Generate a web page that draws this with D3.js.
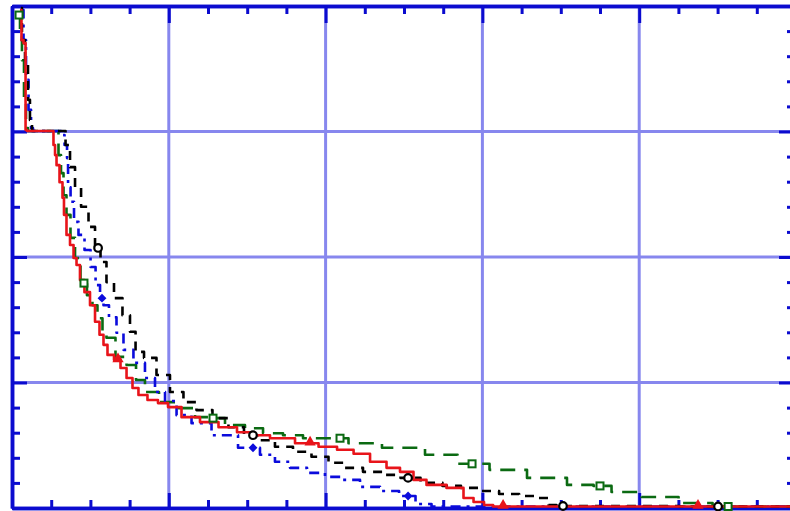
<!DOCTYPE html>
<html>
<head>
<meta charset="utf-8">
<script src="https://cdn.jsdelivr.net/npm/d3@7/dist/d3.min.js"></script>
<style>
  html, body { margin: 0; padding: 0; background: #ffffff; overflow: hidden; }
  svg { display: block; }
</style>
</head>
<body>
<svg id="chart" width="790" height="511"></svg>
<script>
// ---- axis ticks ----
const xMajorTicks = [0, 100, 200, 300, 400, 500];
const xMinorTicks = [25, 50, 75, 125, 150, 175, 225, 250, 275, 325, 350, 375, 425, 450, 475];
const yMajorTicks = [0, 25, 50, 75, 100];
const yMinorTicks = [5, 10, 15, 20, 30, 35, 40, 45, 55, 60, 65, 70, 80, 85, 90, 95];

// ---- series: [x, y] ----
const seriesGreen = [
  [4.5, 98.2], [5.7, 95.2], [7.0, 89.2], [8.3, 81.3], [9.6, 75.7], [10.8, 75.1],
  [28.7, 75.1], [30.6, 70.3], [31.9, 66.7], [33.8, 62.3], [35.7, 58.4], [38.9, 53.8],
  [41.5, 49.8], [45.9, 44.8], [49.7, 42.4], [52.9, 40.4], [56.1, 37.8], [59.3, 34.9],
  [61.2, 33.9], [70.8, 30.1], [75.3, 28.5], [82.9, 25.5], [86.7, 23.1], [100.8, 21.1],
  [111.6, 19.9], [121.8, 18.1], [128.2, 17.9], [143.5, 16.5], [153.7, 15.9], [166.5, 14.9],
  [179.2, 14.5], [192.0, 13.9], [209.2, 13.9], [220.0, 12.9], [251.9, 12.0], [274.9, 10.6],
  [293.4, 8.8], [315.7, 7.6], [341.2, 6.0], [366.7, 4.6], [375.0, 4.4], [389.7, 3.2],
  [413.3, 2.2], [436.9, 1.0], [456.7, 0.3], [500, 0.3]
];
const seriesBlue = [
  [6.4, 99.2], [8.3, 93.2], [9.6, 85.3], [11.5, 79.3], [12.8, 75.7], [14.0, 75.1],
  [30.6, 75.1], [31.9, 74.3], [35.1, 72.3], [35.1, 69.7], [36.4, 63.9], [38.3, 61.0],
  [40.8, 57.0], [44.0, 54.4], [48.5, 51.4], [51.7, 48.0], [54.9, 44.4], [57.4, 41.8],
  [59.3, 40.4], [64.4, 38.0], [68.9, 34.9], [73.3, 31.5], [81.6, 28.9], [88.0, 25.9],
  [94.4, 23.1], [100.8, 21.3], [109.1, 18.5], [119.9, 16.9], [134.6, 14.5], [153.7, 12.0],
  [162.6, 10.6], [172.8, 9.2], [181.8, 8.0], [194.5, 7.0], [204.7, 6.2], [215.6, 5.6],
  [228.3, 4.2], [241.1, 3.4], [252.6, 2.4], [262.1, 0.8], [273.0, 0.3], [500, 0.3]
];
const seriesBlack = [
  [5.7, 99.6], [7.0, 93.2], [9.6, 89.2], [10.8, 81.3], [12.1, 77.3], [13.4, 75.1],
  [33.2, 75.1], [35.1, 72.3], [38.9, 67.9], [41.5, 63.9], [46.6, 60.0], [51.0, 56.0],
  [54.9, 51.8], [58.0, 49.0], [62.5, 45.0], [67.6, 41.8], [73.3, 38.4], [77.2, 35.1],
  [80.4, 31.1], [88.0, 29.9], [96.3, 26.5], [105.2, 23.1], [113.5, 21.1], [121.8, 19.5],
  [133.9, 17.9], [142.2, 16.1], [153.7, 14.5], [162.6, 13.5], [172.8, 12.2], [185.6, 11.2],
  [196.4, 10.2], [207.3, 9.0], [217.5, 8.0], [230.2, 7.2], [243.0, 6.6], [252.6, 6.0],
  [268.5, 5.0], [280.6, 4.4], [292.1, 4.0], [304.9, 3.4], [316.4, 2.8], [330.4, 2.4],
  [341.2, 2.0], [343.1, 0.6], [351.4, 0.4], [500, 0.3]
];
const seriesRed = [
  [5.1, 99.2], [7.0, 93.2], [7.7, 92.6], [9.6, 75.3], [9.6, 75.1], [26.1, 75.1],
  [26.8, 72.3], [28.1, 70.3], [28.7, 68.3], [31.9, 64.9], [32.5, 61.8], [33.8, 58.4],
  [35.7, 54.4], [38.3, 52.4], [40.2, 49.8], [42.1, 48.4], [44.6, 45.4], [47.8, 43.0],
  [51.7, 40.4], [54.2, 37.1], [57.4, 34.5], [59.3, 32.5], [62.5, 30.5], [67.6, 29.5],
  [70.8, 27.9], [75.3, 25.9], [78.4, 23.9], [82.9, 22.5], [89.9, 21.5], [96.3, 20.9],
  [102.7, 20.1], [113.5, 18.1], [126.3, 17.1], [137.1, 16.1], [149.9, 15.1], [158.2, 14.5],
  [170.9, 13.9], [190.1, 12.9], [200.9, 12.2], [213.7, 11.6], [222.0, 10.8], [234.7, 9.2],
  [243.0, 8.0], [251.9, 7.2], [260.2, 5.6], [268.5, 4.6], [285.7, 4.0], [290.2, 2.0],
  [298.5, 1.2], [303.6, 0.6], [310.0, 0.3], [500, 0.3]
];

// ---- marker positions ----
const markersGreen = [[4.5, 98.2], [45.9, 44.8], [128.2, 17.9], [209.2, 13.9], [293.4, 8.8], [375.0, 4.4], [456.7, 0.3]];
const markersBlue = [[57.4, 41.8], [153.7, 12.0], [252.6, 2.4]];
const markersBlack = [[54.9, 51.8], [153.7, 14.5], [252.6, 6.0], [351.4, 0.4], [450.3, 0.3]];
const markersRed = [[67.6, 29.5], [190.1, 12.9], [313.2, 0.3], [437.5, 0.3]];

(function drawChart() {
  // ---- layout ----
  const padLeft = 12, padTop = 6, plotRight = 796, plotBottom = 508;
  const axisColor = "#0b0bcf";
  const gridColor = "#8787ee";

  const svg = d3.select("#chart");
  const x = d3.scaleLinear().domain([0, 500]).range([padLeft, plotRight]);
  const y = d3.scaleLinear().domain([0, 100]).range([plotBottom, padTop]);

  // grid lines at interior major ticks
  const grid = svg.append("g");
  grid.selectAll("line.gx")
    .data(xMajorTicks.slice(1, -1))
    .join("line")
    .attr("x1", d => x(d)).attr("x2", d => x(d))
    .attr("y1", padTop).attr("y2", plotBottom)
    .attr("stroke", gridColor).attr("stroke-width", 3);
  grid.selectAll("line.gy")
    .data(yMajorTicks.slice(1, -1))
    .join("line")
    .attr("x1", padLeft).attr("x2", plotRight)
    .attr("y1", d => y(d)).attr("y2", d => y(d))
    .attr("stroke", gridColor).attr("stroke-width", 3);

  // frame axes with inward ticks
  function styleAxis(g) {
    g.selectAll("path.domain").attr("stroke", axisColor).attr("stroke-width", 3.5);
    g.selectAll(".tick line").attr("stroke", axisColor).attr("stroke-width", 3);
    g.selectAll(".tick text").remove();
  }
  function frameAxis(makeAxis, transform, majors, minors, majorLen, minorLen) {
    svg.append("g").attr("transform", transform)
      .call(makeAxis().tickValues(minors).tickSize(-minorLen).tickSizeOuter(0).tickFormat(""))
      .call(styleAxis);
    svg.append("g").attr("transform", transform)
      .call(makeAxis().tickValues(majors).tickSize(-majorLen).tickSizeOuter(0).tickFormat(""))
      .call(styleAxis);
  }
  frameAxis(() => d3.axisBottom(x), `translate(0,${plotBottom})`, xMajorTicks, xMinorTicks, 15, 8);
  frameAxis(() => d3.axisTop(x), `translate(0,${padTop})`, xMajorTicks, xMinorTicks, 17, 8);
  frameAxis(() => d3.axisLeft(y), `translate(${padLeft},0)`, yMajorTicks, yMinorTicks, 15, 8);
  frameAxis(() => d3.axisRight(y), `translate(${plotRight},0)`, yMajorTicks, yMinorTicks, 17, 9);

  // curves (stepped, as empirical distributions)
  const line = d3.line().curve(d3.curveStep).x(d => x(d[0])).y(d => y(d[1]));
  const curves = [
    { data: seriesGreen, color: "#0b6a12", dash: "15,9" },
    { data: seriesBlue,  color: "#0b0bdc", dash: "10,6,3,6" },
    { data: seriesBlack, color: "#000000", dash: "9,7" },
    { data: seriesRed,   color: "#e8141a", dash: null }
  ];
  const curveLayer = svg.append("g");
  curves.forEach(c => {
    curveLayer.append("path")
      .datum(c.data)
      .attr("d", line)
      .attr("fill", "none")
      .attr("stroke", c.color)
      .attr("stroke-width", 2.6)
      .attr("stroke-linejoin", "round")
      .attr("stroke-dasharray", c.dash);
  });

  // markers
  const markerLayer = svg.append("g");
  markerLayer.selectAll("rect.sq")
    .data(markersGreen).join("rect")
    .attr("x", d => x(d[0]) - 3.5).attr("y", d => y(d[1]) - 3.5)
    .attr("width", 7).attr("height", 7)
    .attr("fill", "#ffffff").attr("stroke", "#0b6a12").attr("stroke-width", 2);
  markerLayer.selectAll("path.dm")
    .data(markersBlue).join("path")
    .attr("transform", d => `translate(${x(d[0])},${y(d[1])})`)
    .attr("d", d3.symbol().type(d3.symbolDiamond2).size(50))
    .attr("fill", "#0b0bdc");
  markerLayer.selectAll("circle.ci")
    .data(markersBlack).join("circle")
    .attr("cx", d => x(d[0])).attr("cy", d => y(d[1]))
    .attr("r", 3.8)
    .attr("fill", "#ffffff").attr("stroke", "#000000").attr("stroke-width", 2.2);
  markerLayer.selectAll("path.tr")
    .data(markersRed).join("path")
    .attr("transform", d => `translate(${x(d[0])},${y(d[1]) - 1})`)
    .attr("d", d3.symbol().type(d3.symbolTriangle).size(55))
    .attr("fill", "#e8141a");
})();
</script>
</body>
</html>
